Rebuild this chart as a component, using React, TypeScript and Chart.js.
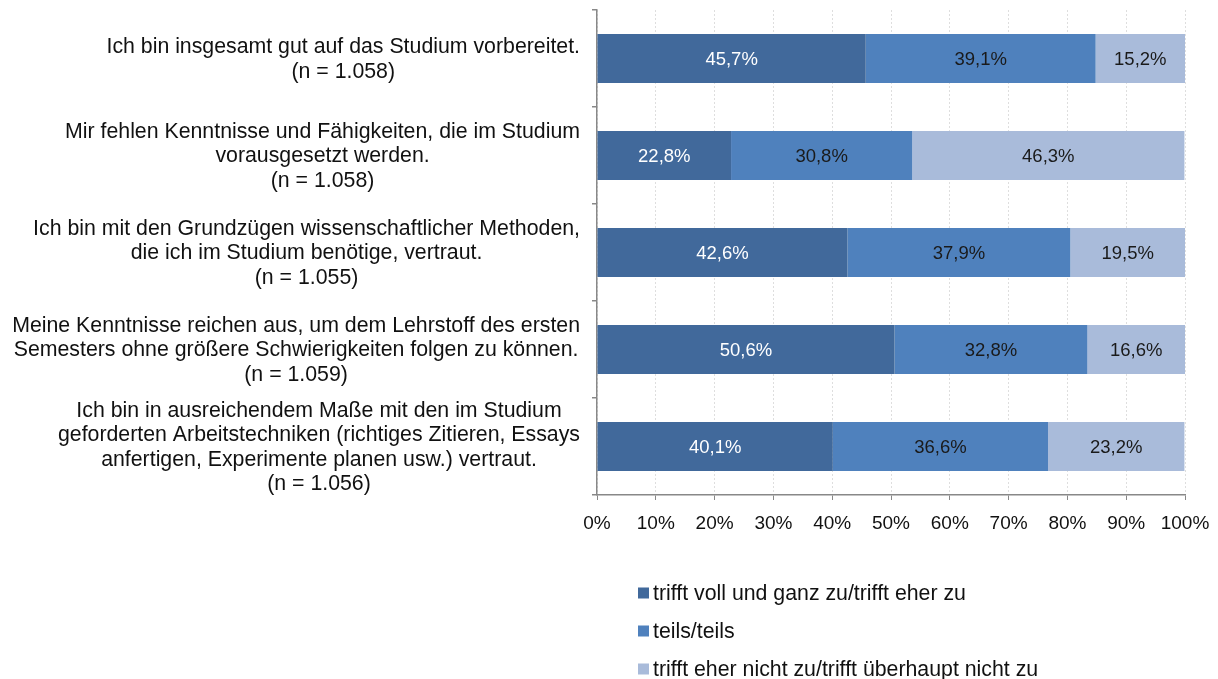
import { useEffect, useRef } from "react";
import { Chart, registerables } from "chart.js";
Chart.register(...registerables);

const categories: string[][] = [
  ["Ich bin insgesamt gut auf das Studium vorbereitet.", "(n = 1.058)"],
  ["Mir fehlen Kenntnisse und Fähigkeiten, die im Studium", "vorausgesetzt werden.", "(n = 1.058)"],
  ["Ich bin mit den Grundzügen wissenschaftlicher Methoden,", "die ich im Studium benötige, vertraut.", "(n = 1.055)"],
  ["Meine Kenntnisse reichen aus, um dem Lehrstoff des ersten", "Semesters ohne größere Schwierigkeiten folgen zu können.", "(n = 1.059)"],
  ["Ich bin in ausreichendem Maße mit den im Studium", "geforderten Arbeitstechniken (richtiges Zitieren, Essays", "anfertigen, Experimente planen usw.) vertraut.", "(n = 1.056)"],
];
const seriesNames = [
  "trifft voll und ganz zu/trifft eher zu",
  "teils/teils",
  "trifft eher nicht zu/trifft überhaupt nicht zu",
];
const fullyAgree = [45.7, 22.8, 42.6, 50.6, 40.1];
const partly = [39.1, 30.8, 37.9, 32.8, 36.6];
const disagree = [15.2, 46.3, 19.5, 16.6, 23.2];
const xTickValues = [0, 10, 20, 30, 40, 50, 60, 70, 80, 90, 100];

const COLORS = ["#41699b", "#4f81bd", "#a9bbda"];
const LABEL_COLORS = ["#ffffff", "#1a1a1a", "#1a1a1a"];
const FONT = "'Liberation Sans', Arial, sans-serif";
const FS = 18.5;
const CAT_FS = 21.3;

const fmt = (v: number) => v.toFixed(1).replace(".", ",") + "%";

const customPlugin = {
  id: "custom",
  afterDraw(chart: any) {
    const ctx = chart.ctx;
    const y = chart.scales.y;
    const area = chart.chartArea;
    ctx.save();
    ctx.textBaseline = "middle";
    // category labels
    ctx.font = `${CAT_FS}px ${FONT}`;
    ctx.fillStyle = "#111111";
    ctx.textAlign = "center";
    const right = area.left - 17;
    const lh = 24.5;
    categories.forEach((lines, i) => {
      const cy = y.getPixelForValue(i) + 1;
      const w = Math.max(...lines.map((l) => ctx.measureText(l).width));
      const cx = right - w / 2;
      lines.forEach((l, k) => {
        ctx.fillText(l, cx, cy + (k - (lines.length - 1) / 2) * lh);
      });
    });
    // data labels
    ctx.font = `${FS}px ${FONT}`;
    chart.data.datasets.forEach((ds: any, di: number) => {
      const meta = chart.getDatasetMeta(di);
      meta.data.forEach((bar: any, j: number) => {
        const v = ds.data[j];
        ctx.fillStyle = LABEL_COLORS[di];
        ctx.textAlign = "center";
        ctx.fillText(fmt(v), (bar.x + bar.base) / 2, bar.y + 1);
      });
    });
    // legend
    ctx.font = `${CAT_FS}px ${FONT}`;
    const lx = 638;
    chart.data.datasets.forEach((ds: any, di: number) => {
      const ly = area.bottom + 98 + di * 38;
      ctx.fillStyle = ds.backgroundColor;
      ctx.fillRect(lx, ly - 5.5, 11, 11);
      ctx.fillStyle = "#111111";
      ctx.textAlign = "left";
      ctx.fillText(ds.label, lx + 15, ly + 1);
    });
    ctx.restore();
  },
};

export default function App() {
  const ref = useRef<HTMLCanvasElement | null>(null);
  useEffect(() => {
    document.body.style.margin = "0";
    if (!ref.current) return;
    const chart = new Chart(ref.current, {
      type: "bar",
      data: {
        labels: categories,
        datasets: [fullyAgree, partly, disagree].map((d, i) => ({
          label: seriesNames[i],
          data: d,
          backgroundColor: COLORS[i],
          borderWidth: 0,
          categoryPercentage: 1,
          barPercentage: 0.505,
        })),
      },
      options: {
        indexAxis: "y",
        animation: false,
        responsive: true,
        maintainAspectRatio: false,
        layout: { padding: { top: 10, right: 33, bottom: 144, left: 0 } },
        plugins: { legend: { display: false }, tooltip: { enabled: false } },
        scales: {
          x: {
            stacked: true,
            min: 0,
            max: 100,
            afterBuildTicks: (scale: any) => {
              scale.ticks = xTickValues.map((v) => ({ value: v }));
            },
            afterFit: (scale: any) => {
              scale.height = 40;
              scale.paddingLeft = 0;
              scale.paddingRight = 0;
            },
            ticks: {
              callback: (v: any) => v + "%",
              color: "#111111",
              font: { family: FONT, size: 19 },
              padding: 12,
              maxRotation: 0,
            },
            grid: {
              color: "#dedede",
              tickColor: "#888888",
              tickLength: 5,
              lineWidth: 1,
            },
            border: { color: "#888888", width: 1.5, dash: [2, 2] },
          },
          y: {
            stacked: true,
            afterFit: (scale: any) => {
              scale.width = 597;
            },
            ticks: { display: false },
            grid: {
              display: true,
              drawOnChartArea: false,
              color: "#888888",
              tickColor: "#888888",
              tickLength: 5,
              lineWidth: 1.5,
              offset: true,
            },
            border: { color: "#888888", width: 1.5 },
          },
        },
      },
      plugins: [customPlugin],
    });
    return () => chart.destroy();
  }, []);
  return (
    <div style={{ width: 1218, height: 679, position: "relative" }}>
      <canvas ref={ref} />
    </div>
  );
}
